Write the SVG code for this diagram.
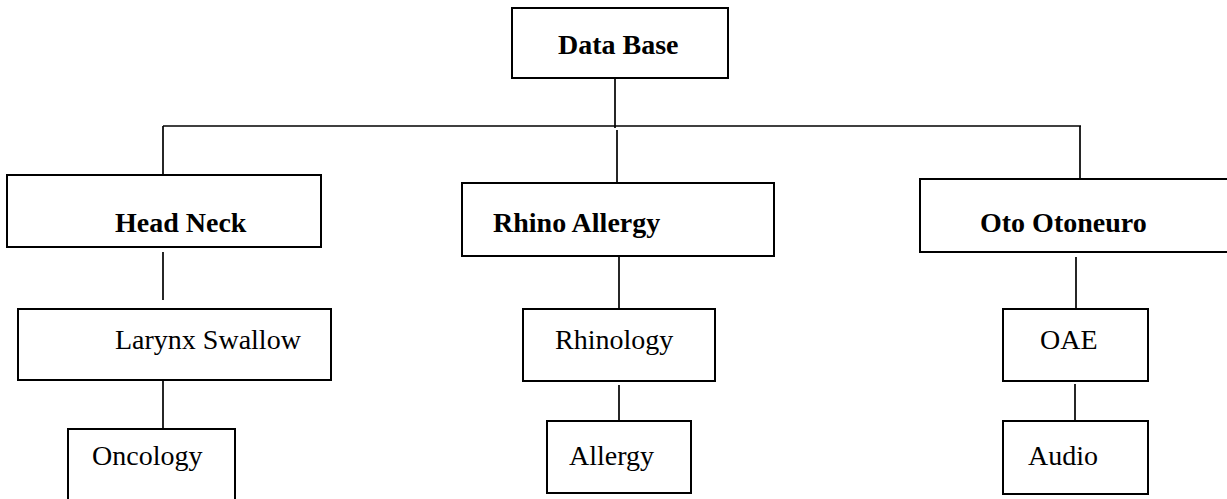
<svg xmlns="http://www.w3.org/2000/svg" width="1227" height="499" viewBox="0 0 1227 499">
<style>
.box{fill:#fff;stroke:#000;stroke-width:2}
.ln{stroke:#000;stroke-width:1.7;fill:none}
.b{font-family:"Liberation Serif","Times New Roman",serif;font-weight:bold;font-size:28px;fill:#000}
.r{font-family:"Liberation Serif","Times New Roman",serif;font-size:28px;fill:#000}
</style>
<rect width="1227" height="499" fill="#fff"/>
<g id="connectors">
<line class="ln" x1="615" y1="79" x2="615" y2="128"/>
<line class="ln" x1="163" y1="126" x2="1081" y2="126"/>
<line class="ln" x1="163" y1="126" x2="163" y2="174"/>
<line class="ln" x1="617" y1="130" x2="617" y2="182"/>
<line class="ln" x1="1080" y1="126" x2="1080" y2="178"/>
<line class="ln" x1="163" y1="252" x2="163" y2="300"/>
<line class="ln" x1="619" y1="255" x2="619" y2="308"/>
<line class="ln" x1="1076" y1="257" x2="1076" y2="308"/>
<line class="ln" x1="163" y1="381" x2="163" y2="429"/>
<line class="ln" x1="619" y1="385" x2="619" y2="420"/>
<line class="ln" x1="1075" y1="384" x2="1075" y2="420"/>
</g>
<g id="database">
<rect class="box" x="512" y="8" width="216" height="70"/>
<text class="b" x="558" y="54">Data Base</text>
</g>
<g id="headneck">
<rect class="box" x="7" y="175" width="314" height="72"/>
<text class="b" x="115" y="232">Head Neck</text>
</g>
<g id="rhinoallergy">
<rect class="box" x="462" y="183" width="312" height="73"/>
<text class="b" x="493" y="232">Rhino Allergy</text>
</g>
<g id="otoneuro">
<rect class="box" x="920" y="179" width="310" height="73"/>
<text class="b" x="980" y="232">Oto Otoneuro</text>
</g>
<g id="larynx">
<rect class="box" x="18" y="309" width="313" height="71"/>
<text class="r" x="115" y="349">Larynx Swallow</text>
</g>
<g id="oncology">
<rect class="box" x="68" y="429" width="167" height="90"/>
<text class="r" x="92" y="465">Oncology</text>
</g>
<g id="rhinology">
<rect class="box" x="523" y="309" width="192" height="72"/>
<text class="r" x="555" y="349">Rhinology</text>
</g>
<g id="allergy">
<rect class="box" x="547" y="421" width="144" height="72"/>
<text class="r" x="569" y="465">Allergy</text>
</g>
<g id="oae">
<rect class="box" x="1003" y="309" width="145" height="72"/>
<text class="r" x="1040" y="349">OAE</text>
</g>
<g id="audio">
<rect class="box" x="1003" y="421" width="145" height="73"/>
<text class="r" x="1028" y="465">Audio</text>
</g>
</svg>
